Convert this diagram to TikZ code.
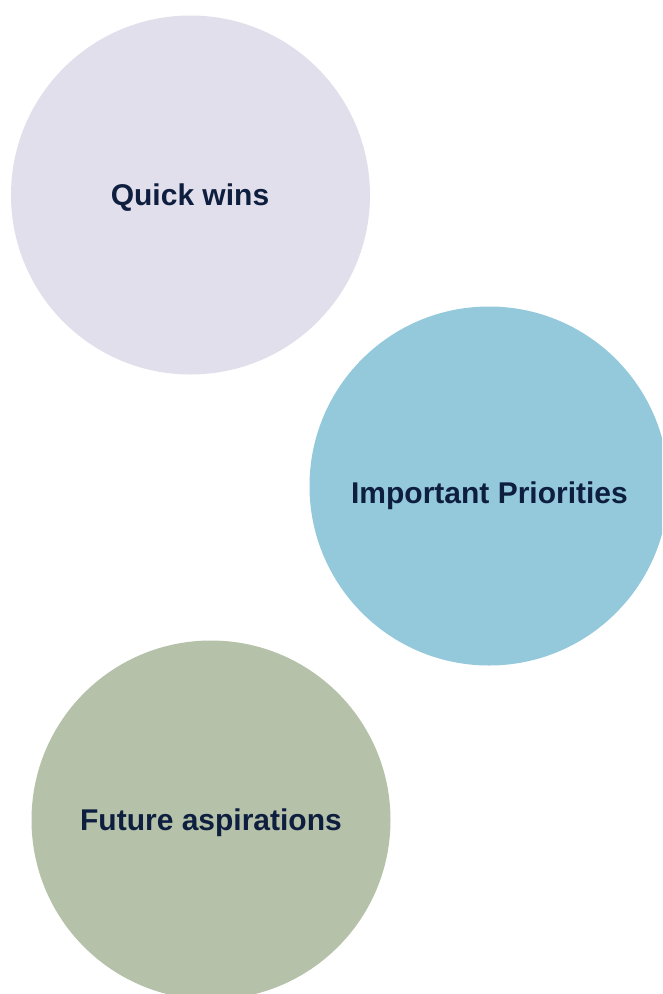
\documentclass[tikz,border=0pt]{standalone}
\usepackage{fontspec}
\setmainfont{Liberation Sans}
\usetikzlibrary{positioning}

\definecolor{lavender}{HTML}{E1DFEB}
\definecolor{skyblue}{HTML}{93C9DB}
\definecolor{sage}{HTML}{B5C2A9}
\definecolor{navy}{HTML}{0E1E3F}

\begin{document}
\begin{tikzpicture}[x=1pt,y=-1pt,
bolla/.style={circle,minimum size=359pt,inner sep=0pt},
testo/.style={text=navy,inner sep=0pt,font=\fontsize{30}{34}\selectfont\bfseries}
]
\useasboundingbox (0,0) rectangle (662,994);
\clip (0,0) rectangle (662,994);
%--
\node[bolla,fill=lavender](qw) at (190.5,195){};
\node[testo] (qwt) at (190,198){Quick wins};
%--
\node[bolla,fill=skyblue](ip) at (489,486){};
\node[testo] (ipt) at (489.5,496){Important Priorities};
%--
\node[bolla,fill=sage](fa) at (211,820){};
\node[testo] (fat) at (211,823){Future aspirations};
\end{tikzpicture}
\end{document}
